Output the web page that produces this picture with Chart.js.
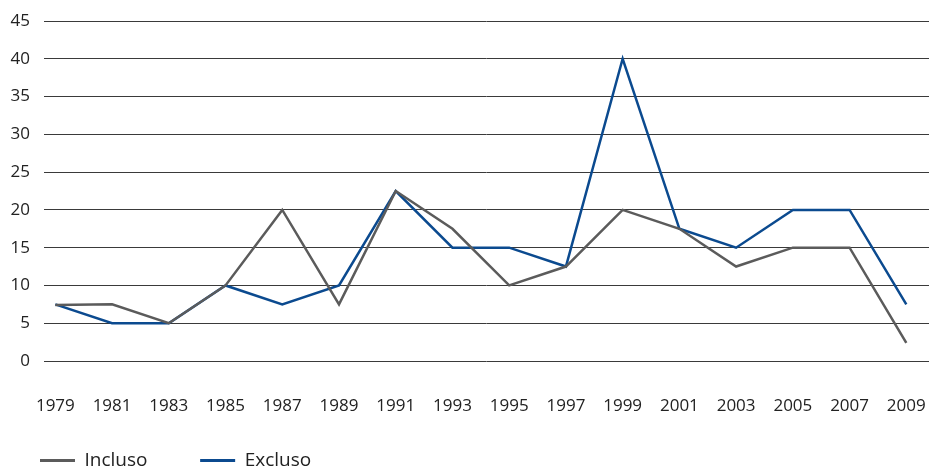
<!DOCTYPE html>
<html>
<head>
<meta charset="utf-8">
<script src="https://cdn.jsdelivr.net/npm/chart.js@4/dist/chart.umd.min.js"></script>
<style>
  body { margin: 0; background: #fff; }
</style>
</head>
<body>
<canvas id="trend" width="929" height="472"></canvas>
<script>
  const years = [1979, 1981, 1983, 1985, 1987, 1989, 1991, 1993, 1995, 1997, 1999, 2001, 2003, 2005, 2007, 2009];
  const incluso = [7.4, 7.5, 5, 10, 20, 7.5, 22.5, 17.5, 10, 12.5, 20, 17.5, 12.5, 15, 15, 2.4];
  const excluso = [7.5, 5, 5, 10, 7.5, 10, 22.5, 15, 15, 12.5, 40, 17.5, 15, 20, 20, 7.5];
  const yTicks = [0, 5, 10, 15, 20, 25, 30, 35, 40, 45];

  const pairs = (vals) => years.map((yr, i) => ({ x: yr, y: vals[i] }));
  const font = { family: 'Open Sans', size: 17 };

  const ctx = document.getElementById('trend');

  new Chart(ctx, {
    type: 'line',
    data: {
      datasets: [{
        label: 'Incluso',
        data: pairs(incluso),
        borderColor: '#5b5b5b',
        backgroundColor: '#5b5b5b',
        borderWidth: 2.5,
        pointRadius: 0,
        tension: 0
      }, {
        label: 'Excluso',
        data: pairs(excluso),
        borderColor: '#0b4a8f',
        backgroundColor: '#0b4a8f',
        borderWidth: 2.5,
        pointRadius: 0,
        tension: 0
      }]
    },
    options: {
      responsive: false,
      animation: false,
      layout: { padding: { top: 21, right: 0, left: 0, bottom: 0 } },
      scales: {
        x: {
          type: 'linear',
          min: 1978.6,
          max: 2009.8,
          afterBuildTicks: (scale) => { scale.ticks = years.map(v => ({ value: v })); },
          afterFit: (scale) => {
            scale.height = 50;
            scale.paddingLeft = 0;
            scale.paddingRight = 0;
          },
          ticks: {
            color: '#222',
            font: font,
            padding: 27,
            maxRotation: 0,
            autoSkip: false,
            callback: (v) => String(v)
          },
          grid: { display: false },
          border: { display: false }
        },
        y: {
          min: 0,
          max: 45,
          afterBuildTicks: (scale) => { scale.ticks = yTicks.map(v => ({ value: v })); },
          afterFit: (scale) => {
            scale.width = 44;
            scale.paddingTop = 0;
            scale.paddingBottom = 0;
          },
          ticks: {
            color: '#222',
            font: font,
            padding: 14
          },
          grid: {
            color: '#3a3a3a',
            lineWidth: 1,
            drawTicks: false
          },
          border: { display: false }
        }
      },
      plugins: {
        tooltip: { enabled: false },
        legend: {
          position: 'bottom',
          align: 'start',
          maxHeight: 61,
          labels: {
            color: '#222',
            font: { family: 'Open Sans', size: 19 },
            boxWidth: 35,
            boxHeight: 3,
            padding: 40,
            generateLabels: (chart) =>
              Chart.defaults.plugins.legend.labels.generateLabels(chart)
                .map(item => ({ ...item, lineWidth: 0, text: item.text + '\u2002\u2009' }))
          }
        }
      }
    }
  });
</script>
</body>
</html>
